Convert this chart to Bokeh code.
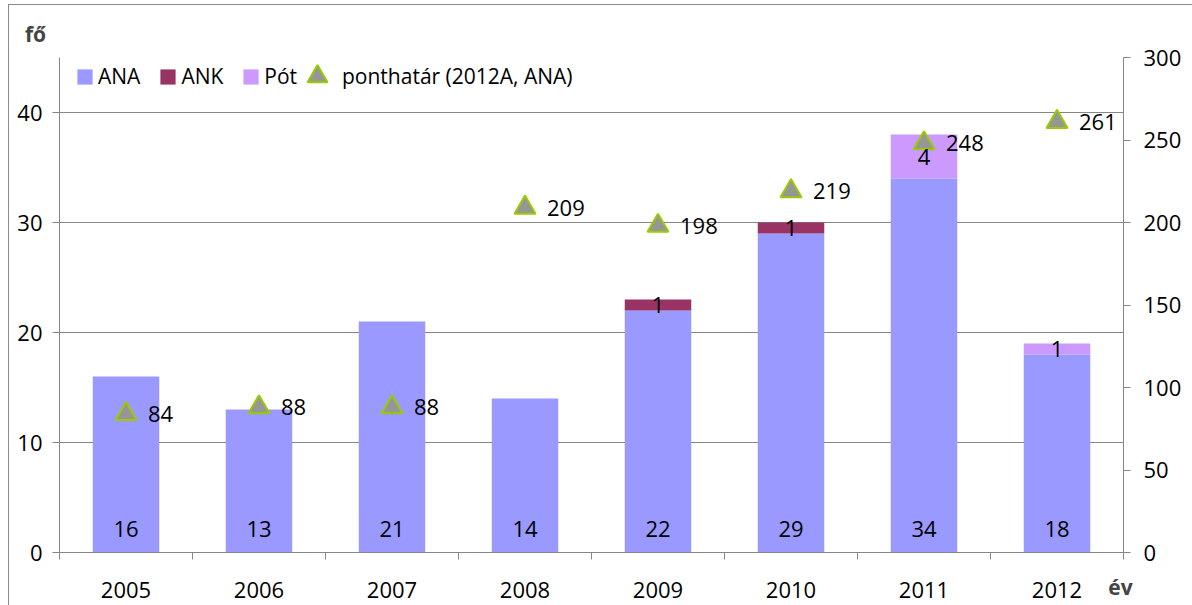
from bokeh.plotting import figure
from bokeh.models import (ColumnDataSource, LinearAxis, Range1d, FixedTicker, LabelSet,
                          Label, Legend, LegendItem)
from bokeh.core.properties import value
from bokeh.embed import file_html
from bokeh.resources import INLINE

# ---- data ----
years = ["2005", "2006", "2007", "2008", "2009", "2010", "2011", "2012"]
ana = [16, 13, 21, 14, 22, 29, 34, 18]
ank = [0, 0, 0, 0, 1, 1, 0, 0]
pot = [0, 0, 0, 0, 0, 0, 4, 1]
ponthatar = [84, 88, 88, 209, 198, 219, 248, 261]
left_ticks = [0, 10, 20, 30, 40]
grid_ticks = [10, 20, 30, 40]
right_ticks = [0, 50, 100, 150, 200, 250, 300]
left_max, right_max = 45, 300
series_names = ["ANA", "ANK", "Pót"]
marker_name = "ponthatár (2012A, ANA)"

FONT = "Open Sans"
FS = "22px"
GRAY = "#868686"
C_ANA, C_ANK, C_POT = "#9999FF", "#993366", "#CC99FF"

# ---- layout (pixels) ----
W, H = 1192, 605
PL, PR, PT, PB = 59, 1123, 57, 552          # plot-area edges on the canvas
n = len(years)
xpu = (PR - PL) / n                          # px per category
ypu = (PB - PT) / left_max                   # px per left unit
x_range = Range1d(-PL / xpu, n + (W - PR) / xpu)
y_range = Range1d(-(H - PB) / ypu, left_max + PT / ypu)
k = right_max / left_max
r_range = Range1d(y_range.start * k, y_range.end * k)

x = [i + 0.5 for i in range(n)]
src = ColumnDataSource(dict(
    x=x, ana=ana, ank=ank, pot=pot, zero=[0] * n,
    ana_txt=[str(v) for v in ana],
    pont=ponthatar, pont_txt=[str(v) for v in ponthatar],
))

seg_x, seg_y, seg_t = [], [], []
for xi, a, kk, pt in zip(x, ana, ank, pot):
    if kk:
        seg_x.append(xi); seg_y.append(a + kk / 2); seg_t.append(str(kk))
    if pt:
        seg_x.append(xi); seg_y.append(a + kk + pt / 2); seg_t.append(str(pt))
seg_src = ColumnDataSource(dict(x=seg_x, y=seg_y, t=seg_t))

p = figure(width=W, height=H, x_range=x_range, y_range=y_range,
           output_backend="svg", toolbar_location=None,
           x_axis_location=None, y_axis_location=None, min_border=0)
p.min_border_left = p.min_border_right = p.min_border_top = p.min_border_bottom = 0
p.outline_line_color = None
p.background_fill_color = None
p.border_fill_color = None
p.extra_y_ranges = {"r": r_range}
p.styles = {"background-color": "white",
            "box-shadow": "inset 0 4px 0 0 white, inset 8px 0 0 0 white, "
                          "inset 0 5px 0 0 #8c8c8c, inset 9px 0 0 0 #8c8c8c"}

p.xgrid.grid_line_color = None
if "cross_bounds" in p.ygrid[0].properties():
    p.ygrid.ticker = FixedTicker(ticks=grid_ticks)
    p.ygrid.grid_line_color = GRAY
    p.ygrid.cross_bounds = (0, n)
else:
    p.ygrid.grid_line_color = None
    p.segment(x0=[0] * len(grid_ticks), x1=[n] * len(grid_ticks),
              y0=grid_ticks, y1=grid_ticks, line_color=GRAY, line_width=1)

def style_axis(ax, standoff):
    ax.axis_line_color = GRAY
    ax.major_tick_line_color = GRAY
    ax.minor_tick_line_color = GRAY
    ax.major_tick_out = 7
    ax.major_tick_in = 0
    ax.minor_tick_in = 0
    ax.minor_tick_out = 0
    ax.major_label_text_font = FONT
    ax.major_label_text_font_size = FS
    ax.major_label_text_color = "black"
    ax.major_label_standoff = standoff

left = LinearAxis(ticker=FixedTicker(ticks=left_ticks), fixed_location=0,
                  bounds=(0, left_max))
style_axis(left, 10)
p.add_layout(left, "left")

right = LinearAxis(y_range_name="r", ticker=FixedTicker(ticks=right_ticks),
                   fixed_location=n, bounds=(0, right_max))
style_axis(right, 13)
p.add_layout(right, "right")

bottom = LinearAxis(ticker=FixedTicker(ticks=x, minor_ticks=list(range(n + 1))),
                    fixed_location=0, bounds=(0, n),
                    major_label_overrides={xi: yr for xi, yr in zip(x, years)})
style_axis(bottom, 22)
bottom.major_tick_out = 0
bottom.minor_tick_out = 7
p.add_layout(bottom, "below")

bars = p.vbar_stack(["ana", "ank", "pot"], x="x", width=0.5, source=src,
                    fill_color=[C_ANA, C_ANK, C_POT], line_color=None)

tri = p.scatter("x", "pont", source=src, y_range_name="r", marker="triangle", size=21,
                fill_color="#969696", line_color="#99CC00", line_width=2)

p.add_layout(LabelSet(x="x", y="zero", text="ana_txt", source=src, y_offset=24,
                      text_align="center", text_baseline="middle",
                      text_font=value(FONT), text_font_size=value(FS), text_color="black"))
p.add_layout(LabelSet(x="x", y="y", text="t", source=seg_src,
                      text_align="center", text_baseline="middle",
                      text_font=value(FONT), text_font_size=value(FS), text_color="black"))
p.add_layout(LabelSet(x="x", y="pont", text="pont_txt", source=src, y_range_name="r",
                      x_offset=22, text_align="left", text_baseline="middle",
                      text_font=value(FONT), text_font_size=value(FS), text_color="black"))
p.add_layout(Label(x=0, y=left_max, x_offset=-24, y_offset=24, text="fő",
                   text_align="center", text_baseline="middle",
                   text_font=FONT, text_font_size="21px", text_font_style="bold"))
p.add_layout(Label(x=n, y=0, x_offset=-3, y_offset=-34, text="év",
                   text_align="center", text_baseline="middle",
                   text_font=FONT, text_font_size="21px", text_font_style="bold"))

common = dict(orientation="horizontal", padding=0, margin=0, label_height=30,
              label_text_font=FONT, label_text_font_size="21px", label_text_color="black",
              background_fill_alpha=0, border_line_color=None)
legend_a = Legend(items=[LegendItem(label=series_names[0], renderers=[bars[0]]),
                         LegendItem(label=series_names[1], renderers=[bars[1]]),
                         LegendItem(label=series_names[2], renderers=[bars[2]])],
                  location=(75, 514), spacing=18, label_standoff=4,
                  glyph_width=19, glyph_height=19, **common)
legend_b = Legend(items=[LegendItem(label=marker_name, renderers=[tri])],
                  location=(292, 504), spacing=0, label_standoff=0,
                  glyph_width=50, glyph_height=50, **common)
p.add_layout(legend_a)
p.add_layout(legend_b)

open("out.html", "w").write(file_html(p, INLINE))
